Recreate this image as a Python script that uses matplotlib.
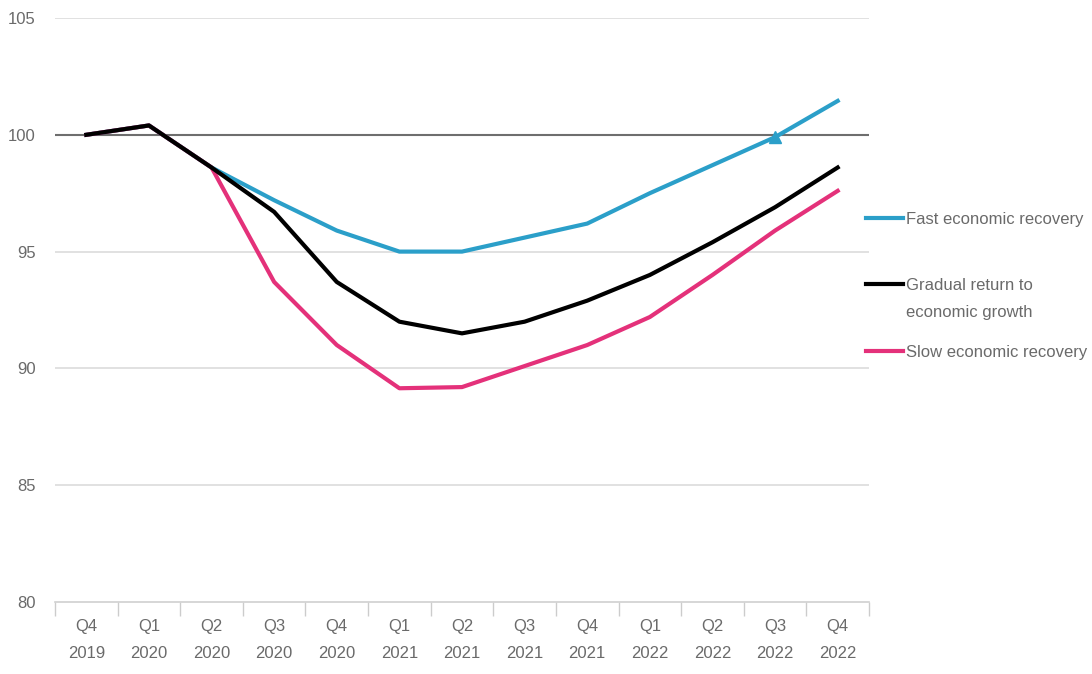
import matplotlib
matplotlib.use("Agg")
import matplotlib.pyplot as plt
from matplotlib import font_manager

categories = ["Q4\n2019", "Q1\n2020", "Q2\n2020", "Q3\n2020", "Q4\n2020", "Q1\n2021", "Q2\n2021",
              "Q3\n2021", "Q4\n2021", "Q1\n2022", "Q2\n2022", "Q3\n2022", "Q4\n2022"]
fast = [100.0, 100.4, 98.6, 97.2, 95.9, 95.0, 95.0, 95.6, 96.2, 97.5, 98.7, 99.9, 101.45]
gradual = [100.0, 100.4, 98.6, 96.7, 93.7, 92.0, 91.5, 92.0, 92.9, 94.0, 95.4, 96.9, 98.6]
slow = [100.0, 100.4, 98.6, 93.7, 91.0, 89.15, 89.2, 90.1, 91.0, 92.2, 94.0, 95.9, 97.6]
yticks = [80, 85, 90, 95, 100, 105]

names = {f.name for f in font_manager.fontManager.ttflist}
fam = ["Liberation Sans Narrow"] if "Liberation Sans Narrow" in names else ["Liberation Sans", "DejaVu Sans"]
plt.rcParams["font.family"] = fam + ["DejaVu Sans"]

fig = plt.figure(figsize=(10.92, 6.74), dpi=100)
ax = fig.add_axes([55 / 1092, 1 - 602 / 674, (869 - 55) / 1092, (602 - 18) / 674])

x = list(range(len(categories)))
gray_txt = "#6a6a6a"

for y in yticks:
    if y == 80:
        continue
    ax.axhline(y, color="#dcdcdc", lw=1.2, zorder=0)
ax.axhline(100, color="#6e6e6e", lw=1.5, zorder=1)

blue = "#2b9fc9"
pink = "#e4317a"
l1, = ax.plot(x, fast, color=blue, lw=3, zorder=3, label="Fast economic recovery")
ax.plot([x[11]], [fast[11]], marker="^", color=blue, ms=8, zorder=4)
l3, = ax.plot(x, slow, color=pink, lw=3, zorder=3, label="Slow economic recovery")
l2, = ax.plot(x, gradual, color="black", lw=3, zorder=4, label="Gradual return to")

ax.set_xlim(-0.5, 12.5)
ax.set_ylim(80, 105)
ax.set_yticks(yticks)
ax.set_xticks(x)
ax.set_xticklabels(categories, fontsize=12, color=gray_txt, linespacing=2.0)
ax.set_xticks([i + 0.5 for i in range(-1, 13)], minor=True)
ax.tick_params(axis="x", which="major", length=0, pad=12)
ax.tick_params(axis="x", which="minor", length=10, color="#cccccc", width=1)
ax.tick_params(axis="y", length=0, labelsize=12, labelcolor=gray_txt, pad=14)

for s in ["top", "right", "left"]:
    ax.spines[s].set_visible(False)
ax.spines["bottom"].set_color("#d0d0d0")
ax.spines["bottom"].set_linewidth(1.2)

def leg(handle, ypx):
    lg = fig.legend(handles=[handle], loc="center left", bbox_to_anchor=(866 / 1092, 1 - ypx / 674),
                    frameon=False, fontsize=12, handlelength=2.2, handletextpad=0.2,
                    borderaxespad=0, borderpad=0)
    for t in lg.get_texts():
        t.set_color(gray_txt)
    return lg

leg(l1, 219)
leg(l2, 285)
leg(l3, 352)
fig.text(906 / 1092, 1 - 313 / 674, "economic growth", fontsize=12, color=gray_txt,
         ha="left", va="center")

fig.savefig("out.png", dpi=100)
